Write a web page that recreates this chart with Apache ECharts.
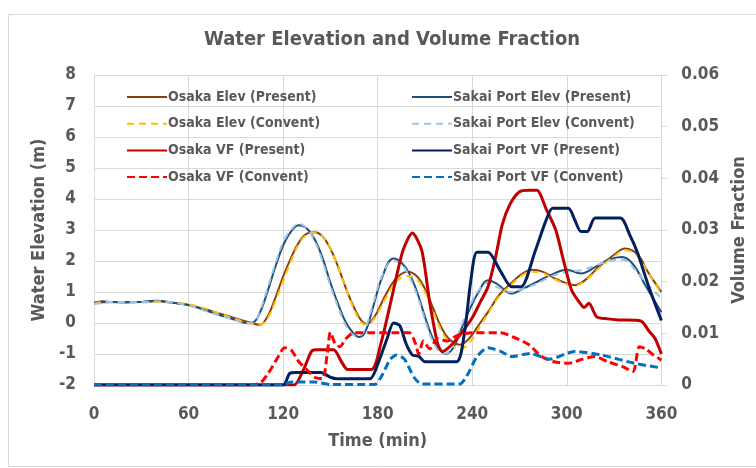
<!DOCTYPE html>
<html>
<head>
<meta charset="utf-8">
<script src="https://cdn.jsdelivr.net/npm/echarts@6/dist/echarts.min.js"></script>
<style>
html,body{margin:0;padding:0;background:#fff;}
#chart{width:756px;height:468px;}
</style>
</head>
<body>
<div id="chart"></div>
<script>
const titleText = 'Water Elevation and Volume Fraction';
const xTicks = [0, 60, 120, 180, 240, 300, 360];
const seriesNames = [
  'Osaka Elev (Present)', 'Osaka Elev (Convent)', 'Osaka VF (Present)', 'Osaka VF (Convent)',
  'Sakai Port Elev (Present)', 'Sakai Port Elev (Convent)', 'Sakai Port VF (Present)', 'Sakai Port VF (Convent)'
];

// [time (min), water elevation (m)]
const osakaElevPresent = [[0,0.65],[5,0.7],[10,0.68],[20,0.68],[30,0.68],[40,0.7],[50,0.65],[60,0.58],[70,0.45],[80,0.3],[90,0.15],[100,0.0],[105,-0.06],[110,0.2],[115,0.8],[120,1.5],[125,2.1],[130,2.6],[135,2.88],[140,2.93],[145,2.8],[150,2.4],[155,1.8],[160,1.1],[165,0.5],[170,0.05],[173,-0.03],[178,0.2],[185,0.9],[192,1.45],[199,1.65],[205,1.5],[210,1.1],[215,0.5],[220,-0.1],[225,-0.5],[232,-0.7],[238,-0.5],[245,0.0],[250,0.35],[257,0.9],[265,1.3],[272,1.6],[278,1.72],[285,1.65],[292,1.45],[300,1.28],[305,1.22],[312,1.4],[320,1.8],[330,2.2],[337,2.4],[345,2.2],[352,1.6],[360,1.0]];
const osakaElevConvent = [[0,0.6],[5,0.68],[10,0.68],[20,0.66],[30,0.68],[40,0.68],[50,0.66],[60,0.6],[70,0.48],[80,0.3],[90,0.12],[100,-0.02],[105,-0.05],[110,0.15],[115,0.7],[120,1.35],[125,2.0],[130,2.55],[135,2.85],[140,2.92],[145,2.8],[150,2.4],[155,1.8],[160,1.1],[165,0.45],[170,0.0],[173,-0.05],[178,0.15],[185,0.8],[192,1.35],[199,1.52],[205,1.4],[210,1.0],[215,0.4],[220,-0.2],[225,-0.6],[232,-0.85],[238,-0.65],[245,-0.1],[250,0.3],[257,0.85],[265,1.25],[272,1.55],[278,1.65],[285,1.6],[292,1.42],[300,1.25],[305,1.2],[312,1.38],[320,1.75],[330,2.15],[337,2.35],[345,2.15],[352,1.6],[360,0.95]];
const sakaiElevPresent = [[0,0.65],[10,0.68],[20,0.66],[30,0.68],[40,0.72],[50,0.65],[60,0.58],[70,0.42],[80,0.25],[90,0.1],[97,0.0],[101,0.02],[105,0.3],[110,1.0],[115,1.8],[120,2.5],[125,2.95],[130,3.15],[135,3.05],[140,2.7],[145,2.1],[150,1.3],[155,0.6],[160,0.0],[165,-0.35],[168,-0.45],[172,-0.3],[177,0.5],[183,1.5],[190,2.08],[195,1.95],[200,1.6],[205,1.0],[210,0.2],[215,-0.5],[220,-0.9],[223,-1.0],[228,-0.8],[233,-0.2],[238,0.4],[244,1.0],[250,1.38],[256,1.25],[265,0.95],[272,1.1],[280,1.3],[290,1.55],[300,1.72],[309,1.6],[318,1.8],[327,2.05],[335,2.13],[342,1.9],[350,1.2],[360,0.35]];
const sakaiElevConvent = [[0,0.62],[10,0.66],[20,0.68],[30,0.66],[40,0.7],[50,0.66],[60,0.56],[70,0.4],[80,0.24],[90,0.08],[97,-0.02],[101,0.0],[105,0.35],[110,1.1],[115,1.9],[120,2.6],[125,3.0],[130,3.2],[135,3.05],[140,2.65],[145,2.0],[150,1.2],[155,0.5],[160,-0.1],[165,-0.4],[168,-0.42],[172,-0.2],[177,0.6],[183,1.55],[190,2.0],[195,1.9],[200,1.5],[205,0.9],[210,0.1],[215,-0.6],[220,-0.95],[223,-0.98],[228,-0.7],[233,-0.1],[238,0.5],[244,1.05],[250,1.3],[256,1.15],[265,1.0],[272,1.1],[280,1.25],[290,1.5],[300,1.65],[309,1.7],[318,1.85],[327,2.0],[335,2.05],[342,1.8],[350,1.3],[360,0.8]];

// [time (min), volume fraction]
const osakaVfPresent = [[0,0],[120,0],[127,0],[133,0.003],[138,0.0065],[141,0.0068],[152,0.0068],[157,0.0045],[161,0.003],[176,0.003],[182,0.008],[189,0.017],[196,0.026],[202,0.0294],[208,0.026],[213,0.016],[218,0.008],[221,0.0065],[226,0.0075],[233,0.01],[240,0.013],[245,0.016],[250,0.019],[255,0.025],[259,0.031],[264,0.035],[270,0.0374],[276,0.0377],[281,0.0377],[287,0.034],[293,0.030],[298,0.024],[303,0.0184],[308,0.016],[311,0.015],[314,0.0158],[319,0.0132],[326,0.0128],[333,0.0126],[347,0.0124],[352,0.0105],[356,0.009],[360,0.006]];
const osakaVfConvent = [[0,0],[95,0],[105,0.0003],[110,0.002],[116,0.005],[121,0.0072],[125,0.0068],[130,0.0045],[135,0.003],[140,0.0015],[145,0.0012],[148,0.006],[150,0.0102],[153,0.008],[156,0.0074],[160,0.009],[165,0.0101],[200,0.0101],[204,0.008],[206,0.006],[209,0.0085],[213,0.007],[218,0.009],[224,0.0085],[230,0.0095],[240,0.0101],[258,0.0101],[268,0.009],[276,0.0078],[284,0.0055],[292,0.0045],[301,0.0042],[310,0.005],[318,0.0055],[326,0.0045],[335,0.0036],[342,0.0026],[346,0.0074],[350,0.007],[355,0.0058],[360,0.0048]];
const sakaiVfPresent = [[0,0],[120,0],[124,0.0022],[128,0.0024],[144,0.0024],[150,0.0015],[154,0.0012],[175,0.0012],[180,0.004],[186,0.009],[190,0.012],[194,0.0115],[198,0.008],[202,0.0058],[206,0.0056],[210,0.0045],[230,0.0045],[235,0.01],[239,0.02],[243,0.0257],[250,0.0257],[258,0.022],[265,0.019],[271,0.019],[280,0.026],[287,0.032],[291,0.0342],[301,0.0342],[305,0.032],[309,0.0297],[313,0.0297],[318,0.0323],[334,0.0323],[340,0.029],[345,0.0255],[352,0.019],[360,0.0125]];
const sakaiVfConvent = [[0,0],[120,0],[125,0.0006],[140,0.0006],[150,0.0001],[178,0.0001],[183,0.002],[188,0.005],[192,0.0058],[197,0.005],[203,0.0015],[208,0.0002],[232,0.0002],[237,0.002],[243,0.0055],[250,0.0072],[258,0.0065],[265,0.0055],[277,0.0061],[289,0.005],[305,0.0065],[322,0.0058],[343,0.0042],[360,0.0033]];

const FONT = '"DejaVu Sans Condensed", "Liberation Sans", sans-serif';
const GRAY = '#595959';
const GRID = '#d9d9d9';

function mk(name, data, color, width, dash, yIndex, z) {
  const pattern = yIndex === 0 ? [7, 5] : [8, 4];
  return {
    name: name, type: 'line', data: data, yAxisIndex: yIndex,
    symbol: 'none', smooth: yIndex === 0 ? 0.4 : 0.25, z: z,
    lineStyle: { color: color, width: width, type: dash ? pattern : 'solid', cap: 'butt' },
    itemStyle: { color: color }
  };
}

const legendText = { fontFamily: FONT, fontSize: 14, fontWeight: 'bold', color: GRAY, lineHeight: 16, padding: [0, 0, 0, -4] };

const chart = echarts.init(document.getElementById('chart'), null, { renderer: 'canvas' });
chart.setOption({
  backgroundColor: '#fff',
  animation: false,
  title: {
    text: titleText, left: 199, top: 25,
    textStyle: { fontFamily: FONT, fontSize: 20, fontWeight: 'bold', color: GRAY }
  },
  graphic: [{
    type: 'rect', silent: true, z: -10,
    shape: { x: 8.5, y: 14.5, width: 760, height: 452 },
    style: { fill: 'none', stroke: GRID, lineWidth: 1 }
  }],
  legend: [{
    data: seriesNames.slice(0, 4), orient: 'vertical', left: 121, top: 84,
    itemWidth: 40, itemHeight: 14, itemGap: 10.7,
    itemStyle: { opacity: 0 },
    textStyle: legendText
  }, {
    data: seriesNames.slice(4), orient: 'vertical', left: 406, top: 84,
    itemWidth: 40, itemHeight: 14, itemGap: 10.7,
    itemStyle: { opacity: 0 },
    textStyle: legendText
  }],
  grid: { left: 94, right: 93, top: 75, bottom: 83, containLabel: false },
  xAxis: {
    type: 'value', min: 0, max: 360, interval: 60,
    name: 'Time (min)', nameLocation: 'middle', nameGap: 47,
    nameTextStyle: { fontFamily: FONT, fontSize: 18, fontWeight: 'bold', color: GRAY },
    axisLine: { show: true, lineStyle: { color: GRID } },
    axisTick: { show: false },
    axisLabel: { fontFamily: FONT, fontSize: 17, fontWeight: 'bold', color: GRAY, margin: 21,
      formatter: v => xTicks.includes(v) ? String(v) : '' },
    splitLine: { show: true, lineStyle: { color: GRID } }
  },
  yAxis: [{
    type: 'value', min: -2, max: 8, interval: 1,
    name: 'Water Elevation (m)', nameLocation: 'middle', nameGap: 44, nameRotate: 90,
    nameTextStyle: { fontFamily: FONT, fontSize: 18, fontWeight: 'bold', color: GRAY },
    axisLine: { show: true, lineStyle: { color: GRID } },
    axisTick: { show: false },
    axisLabel: { fontFamily: FONT, fontSize: 17, fontWeight: 'bold', color: GRAY, margin: 18 },
    splitLine: { show: true, lineStyle: { color: GRID } }
  }, {
    type: 'value', min: 0, max: 0.06, interval: 0.01, position: 'right',
    name: 'Volume Fraction', nameLocation: 'middle', nameGap: 59, nameRotate: 90,
    nameTextStyle: { fontFamily: FONT, fontSize: 18, fontWeight: 'bold', color: GRAY },
    axisLine: { show: true, lineStyle: { color: GRID } },
    axisTick: { show: true, inside: false, length: 6, lineStyle: { color: GRID } },
    axisLabel: { fontFamily: FONT, fontSize: 17, fontWeight: 'bold', color: GRAY, margin: 20,
      formatter: v => String(+v.toFixed(2)) },
    splitLine: { show: false }
  }],
  series: [
    mk(seriesNames[0], osakaElevPresent, '#8B3E10', 2, false, 0, 3),
    mk(seriesNames[1], osakaElevConvent, '#FFC000', 2, true, 0, 4),
    mk(seriesNames[2], osakaVfPresent, '#C00000', 3, false, 1, 5),
    mk(seriesNames[3], osakaVfConvent, '#FF0000', 3, true, 1, 6),
    mk(seriesNames[4], sakaiElevPresent, '#1F4E79', 2, false, 0, 3),
    mk(seriesNames[5], sakaiElevConvent, '#9DC3E6', 2, true, 0, 4),
    mk(seriesNames[6], sakaiVfPresent, '#002060', 3, false, 1, 5),
    mk(seriesNames[7], sakaiVfConvent, '#0070C0', 3, true, 1, 6)
  ]
});
</script>
</body>
</html>
